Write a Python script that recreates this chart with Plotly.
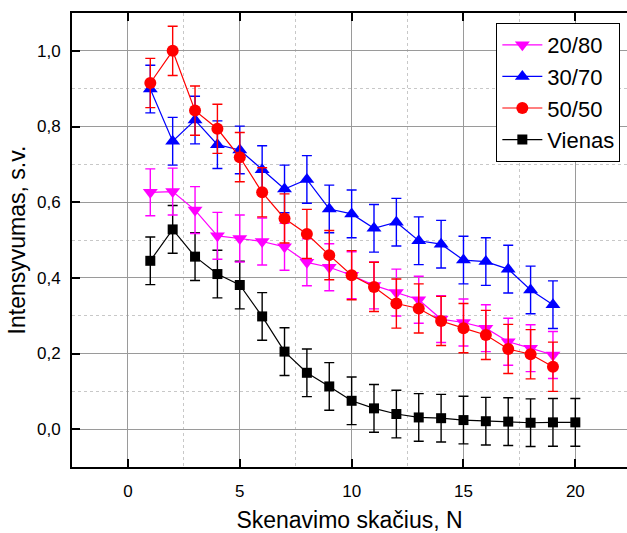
import plotly.graph_objects as go

x_vienas = list(range(1, 21))
x_mix = list(range(1, 20))

y_2080 = [0.626, 0.628, 0.579, 0.511, 0.504, 0.496, 0.482, 0.441, 0.428, 0.407,
          0.380, 0.361, 0.342, 0.291, 0.282, 0.267, 0.231, 0.214, 0.196]
e_2080 = [0.062] * 19

y_3070 = [0.899, 0.761, 0.817, 0.752, 0.738, 0.686, 0.635, 0.660, 0.582, 0.569,
          0.531, 0.547, 0.498, 0.489, 0.447, 0.443, 0.423, 0.368, 0.329]
e_3070 = [0.063] * 19

y_5050 = [0.915, 1.000, 0.842, 0.794, 0.719, 0.626, 0.557, 0.516, 0.460, 0.407,
          0.376, 0.332, 0.319, 0.286, 0.267, 0.249, 0.212, 0.198, 0.165]
e_5050 = [0.065] * 19

y_vienas = [0.445, 0.528, 0.456, 0.410, 0.381, 0.298, 0.205, 0.149, 0.113, 0.075,
            0.055, 0.040, 0.031, 0.029, 0.024, 0.021, 0.020, 0.017, 0.018, 0.018]
e_vienas = [0.063] * 20

x_ticks = [0, 5, 10, 15, 20]
y_ticks = [0.0, 0.2, 0.4, 0.6, 0.8, 1.0]

FONT = "Liberation Sans, Arial, sans-serif"

series = [
    ("Vienas", x_vienas, y_vienas, e_vienas, "#000000", "square", 10, 4),
    ("20/80", x_mix, y_2080, e_2080, "#FF00FF", "triangle-down", 13, 1),
    ("30/70", x_mix, y_3070, e_3070, "#0000FF", "triangle-up", 13, 2),
    ("50/50", x_mix, y_5050, e_5050, "#FF0000", "circle", 12, 3),
]

fig = go.Figure()
for name, xs, ys, es, col, sym, sz, rank in series:
    fig.add_trace(go.Scatter(
        x=xs, y=ys, name=name, mode="lines+markers",
        line=dict(color=col, width=1.2),
        marker=dict(symbol=sym, size=sz, color=col, line=dict(width=0)),
        error_y=dict(type="data", array=es, visible=True, color=col,
                     thickness=1.4, width=5),
        legendrank=rank,
    ))

fig.update_layout(
    width=627, height=533,
    margin=dict(l=72, r=0, t=13, b=66),
    paper_bgcolor="white", plot_bgcolor="white",
    separators=", ",
    font=dict(family=FONT, color="black", size=17),
    showlegend=True,
    legend=dict(
        x=0.988, y=0.978, xanchor="right", yanchor="top",
        bgcolor="white", bordercolor="black", borderwidth=1,
        font=dict(size=22, family=FONT), tracegroupgap=0,
        itemwidth=40,
    ),
    xaxis=dict(
        range=[-2.5, 22.31],
        tickmode="array", tickvals=x_ticks,
        ticks="inside", ticklen=8, tickwidth=2, tickcolor="black",
        showline=True, linecolor="black", linewidth=2, mirror="ticks",
        showgrid=True, gridcolor="#9a9a9a", gridwidth=1.3,
        minor=dict(tickvals=[2.5, 7.5, 12.5, 17.5], showgrid=True,
                   gridcolor="#c8c8c8", griddash="dot", gridwidth=1, ticks=""),
        zeroline=False,
        tickfont=dict(size=17),
        ticklabelstandoff=8,
        title=dict(text="Skenavimo skačius, N", font=dict(size=23), standoff=15),
    ),
    yaxis=dict(
        range=[-0.1, 1.1],
        tickmode="array", tickvals=y_ticks, tickformat=".1f",
        ticks="inside", ticklen=8, tickwidth=2, tickcolor="black",
        showline=True, linecolor="black", linewidth=2,
        showgrid=True, gridcolor="#9a9a9a", gridwidth=1.3,
        minor=dict(tickvals=[0.1, 0.3, 0.5, 0.7, 0.9], showgrid=True,
                   gridcolor="#c8c8c8", griddash="dot", gridwidth=1, ticks=""),
        zeroline=False,
        tickfont=dict(size=17),
        ticklabelstandoff=6,
        title=dict(text="Intensyvumas, s.v.", font=dict(size=23), standoff=5),
    ),
    yaxis2=dict(
        overlaying="y", side="right", anchor="x", matches="y",
        range=[-0.1, 1.1],
        tickmode="array", tickvals=y_ticks,
        ticks="inside", ticklen=4, tickwidth=2, tickcolor="black",
        showticklabels=False, showline=False, showgrid=False, zeroline=False,
    ),
)

fig.write_html("out.html")
